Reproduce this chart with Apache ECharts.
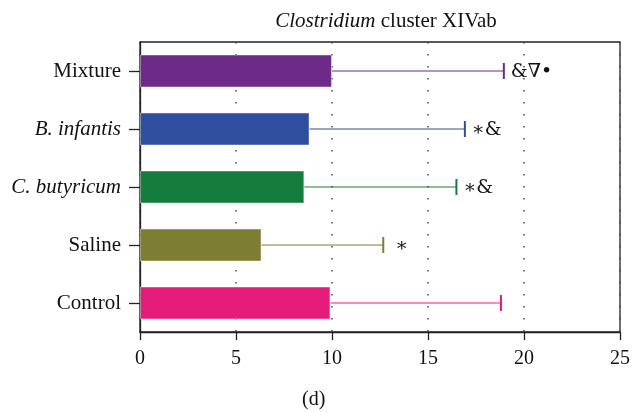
<!DOCTYPE html>
<html>
<head>
<meta charset="utf-8">
<script src="https://cdn.jsdelivr.net/npm/echarts@6/dist/echarts.min.js"></script>
<style>html,body{margin:0;padding:0;background:#fff;}#c{width:642px;height:413px;}</style>
</head>
<body>
<div id="c"></div>
<script>
// Data (bottom to top)
const categories = ["Control", "Saline", "C. butyricum", "B. infantis", "Mixture"];
const means = [9.92, 6.33, 8.56, 8.83, 10.0];
const upperErrors = [18.8, 12.67, 16.48, 16.92, 18.95];
const annotations = ["", "\u2217", "\u2217&", "\u2217&", "&\u2207\u2022"];
const xTicks = [0, 5, 10, 15, 20, 25];

const barColors = ["#e61c7b", "#7e7e32", "#157c3e", "#2e4f9e", "#6d2a89"];
const italicCats = ["C. butyricum", "B. infantis"];
const FONT = "'Liberation Serif', 'DejaVu Serif', serif";

const chart = echarts.init(document.getElementById('c'), null, {renderer: 'canvas'});

const errData = categories.map((c, i) => [means[i], upperErrors[i], i, annotations[i]]);

const option = {
  backgroundColor: '#fff',
  animation: false,
  title: {
    text: '{i|Clostridium} cluster XIVab',
    left: 381, top: 6, textAlign: 'center',
    textStyle: {
      fontFamily: FONT, fontSize: 21, fontWeight: 'normal', color: '#111',
      rich: { i: { fontFamily: FONT, fontSize: 21, fontStyle: 'italic', color: '#111' } }
    }
  },
  grid: { left: 140, right: 22, top: 42, bottom: 81, show: true, borderColor: '#222', borderWidth: 1.3 },
  xAxis: {
    type: 'value', min: 0, max: 25, interval: 5,
    axisLine: { show: true, lineStyle: { color: '#222', width: 1.3 } },
    axisTick: { show: true, length: 8, lineStyle: { color: '#222', width: 1.3 } },
    axisLabel: { margin: 17, fontFamily: FONT, fontSize: 20, color: '#111',
      formatter: v => xTicks.includes(v) ? String(v) : '' },
    splitLine: { show: true, lineStyle: { color: '#444', width: 1.5, type: [1.5, 10.5] } }
  },
  yAxis: {
    type: 'category', data: categories,
    axisLine: { show: true, lineStyle: { color: '#222', width: 1.3 } },
    axisTick: { show: true, length: 11, alignWithLabel: true, lineStyle: { color: '#222', width: 1.3 } },
    axisLabel: {
      margin: 19, fontFamily: FONT, fontSize: 21, color: '#111',
      formatter: v => italicCats.includes(v) ? '{it|' + v + '}' : v,
      rich: { it: { fontFamily: FONT, fontSize: 21, fontStyle: 'italic', color: '#111' } }
    },
    splitLine: { show: false }
  },
  series: [
    {
      type: 'bar',
      data: means.map((v, i) => ({ value: v, itemStyle: { color: barColors[i] } })),
      barWidth: 33,
      itemStyle: { borderColor: 'rgba(255,255,255,0.45)', borderWidth: 1 },
      z: 2
    },
    {
      type: 'custom',
      data: errData,
      encode: { x: [0, 1], y: 2 },
      z: 3,
      renderItem: function (params, api) {
        const i = api.value(2);
        const s = api.coord([api.value(0), i]);
        const e = api.coord([api.value(1), i]);
        const col = barColors[i];
        const children = [
          { type: 'line', shape: { x1: s[0], y1: s[1], x2: e[0], y2: e[1] }, style: { stroke: col, lineWidth: 1.2 } },
          { type: 'line', shape: { x1: e[0], y1: e[1] - 8, x2: e[0], y2: e[1] + 8 }, style: { stroke: col, lineWidth: 2 } }
        ];
        const ann = annotations[i];
        if (ann) {
          children.push({ type: 'text', x: e[0] + (i === 1 ? 12 : 7), y: e[1] + 1,
            style: { text: ann, fontFamily: "'DejaVu Serif', serif", fontSize: 19, fill: '#111',
              textAlign: 'left', textVerticalAlign: 'middle' } });
        }
        return { type: 'group', children: children };
      }
    }
  ],
  graphic: [
    { type: 'text', left: 302, top: 390, style: { text: '(d)', fontFamily: FONT, fontSize: 20, fill: '#111' } }
  ]
};
chart.setOption(option);
</script>
</body>
</html>
